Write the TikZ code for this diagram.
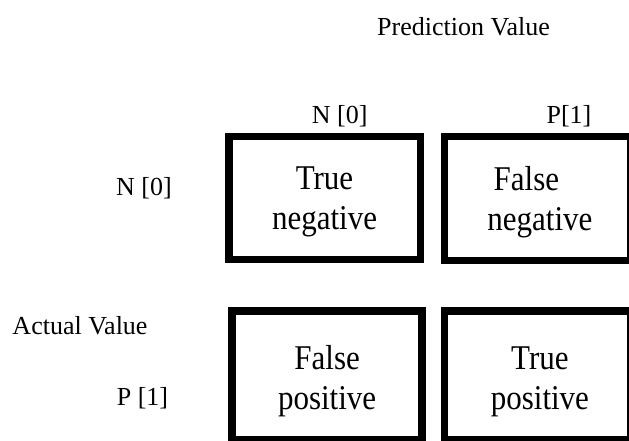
\documentclass[tikz,border=0pt]{standalone}
\usepackage{fontspec}
\usepackage{graphicx}
\setmainfont{Liberation Serif}
% cell captions are set slightly taller than the plain font
\newcommand\tallword[1]{\scalebox{1}[1.12]{#1}}
\begin{document}
\begin{tikzpicture}[x=1pt,y=-1pt,
  cell/.style={draw=black, line width=7.5pt, fill=white, rectangle, inner sep=0pt},
  celltext/.style={align=center, inner sep=0pt, font=\fontsize{31}{40}\selectfont},
  axis/.style={anchor=base, inner sep=0pt, font=\fontsize{26}{30}\selectfont}]
  % page frame; cells on the right and bottom run past it
  \clip (0,0) rectangle (629,441);
  \fill[white] (0,0) rectangle (629,441);

  % axis titles and class labels
  \node[axis] (pred) at (463.5,36) {Prediction Value};
  \node[axis] (colN) at (339.7,123.3) {N [0]};
  \node[axis] (colP) at (569,123.3) {P[1]};
  \node[axis] (rowN) at (144,195) {N [0]};
  \node[axis] (act)  at (80,334) {Actual Value};
  \node[axis] (rowP) at (142.5,405) {P [1]};

  % the four cells of the confusion matrix
  \node[cell, minimum width=191.5pt, minimum height=123pt]   (tn) at (324.5,198) {};
  \node[cell, minimum width=185.7pt, minimum height=123.7pt] (fn) at (537.4,198.4) {};
  \node[cell, minimum width=190.2pt, minimum height=129.4pt] (fp) at (327.1,375.5) {};
  \node[cell, minimum width=185.7pt, minimum height=129.4pt] (tp) at (537.4,375.5) {};

  % captions inside the cells
  \node[celltext] (tnt) at ([yshift=-4pt]tn.center) {\tallword{True}\\\tallword{negative}};
  \node[celltext] (fnt) at ([yshift=-4pt]fn.center) {\tallword{False}\hspace*{22pt}\\\hspace*{5pt}\tallword{negative}};
  \node[celltext] (fpt) at ([yshift=-6pt]fp.center) {\tallword{False}\\\tallword{positive}};
  \node[celltext] (tpt) at ([yshift=-6pt]tp.center) {\hspace*{5pt}\tallword{True}\\\hspace*{5pt}\tallword{positive}};
\end{tikzpicture}
\end{document}
